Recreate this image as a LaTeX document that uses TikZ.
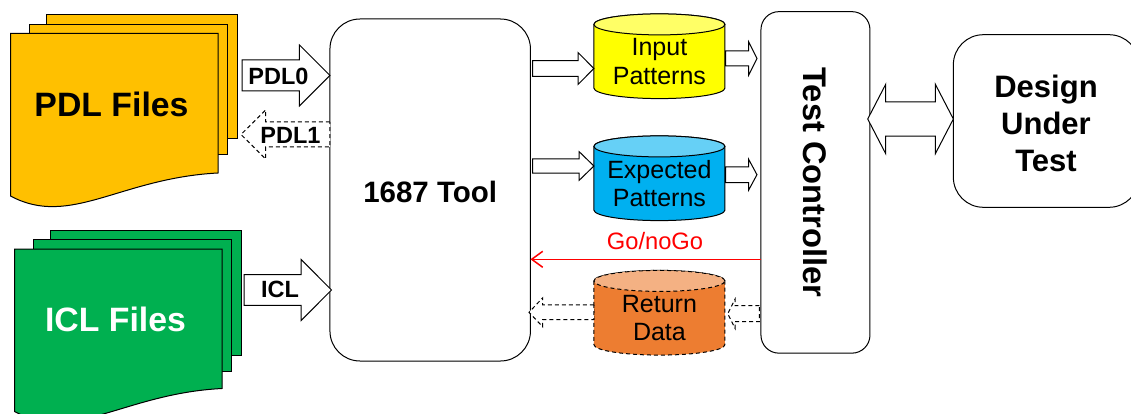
\documentclass[tikz,border=0pt]{standalone}
\usepackage{fontspec}
\setmainfont{Liberation Sans}
\usetikzlibrary{positioning,calc,arrows.meta,backgrounds}
\definecolor{pdlcol}{HTML}{FFC000}
\definecolor{iclcol}{HTML}{00B050}
\definecolor{inputcol}{HTML}{FFFF00}
\definecolor{inputtop}{HTML}{FFFF66}
\definecolor{expcol}{HTML}{00B0F0}
\definecolor{exptop}{HTML}{66D0F6}
\definecolor{retcol}{HTML}{ED7D31}
\definecolor{rettop}{HTML}{F4B183}
\tikzset{
    rbox/.style={draw, line width=1pt, fill=white, inner sep=0pt, outer sep=0pt},
    pdlsheet/.style={draw, line width=1pt, fill=pdlcol},
    iclsheet/.style={draw, line width=1pt, fill=iclcol},
    filetext/.style={inner sep=0pt, font=\bfseries\fontsize{33.8}{40}\selectfont},
    can/.style={inner sep=0pt, outer sep=0pt, minimum width=131pt, minimum height=74.2pt, align=center, font=\fontsize{25}{28.5}\selectfont},
    canrim/.style={x radius=65.5pt, y radius=10.5pt},
    barrow/.style={line width=1pt},
    blockarrow/.style n args={3}{barrow, fill=white, to path={
        let \p1=(\tikztostart), \p2=(\tikztotarget), \p3=($(\tikztotarget)!#3!(\tikztostart)$) in
        (\x1,{\y1+#1}) -- (\x3,{\y1+#1}) -- (\x3,{\y1+#2}) -- (\x2,\y1) -- (\x3,{\y1-#2}) -- (\x3,{\y1-#1}) -- (\x1,{\y1-#1}) -- cycle}},
    dblarrow/.style n args={3}{barrow, fill=white, to path={
        let \p1=(\tikztostart), \p2=(\tikztotarget), \p3=($(\tikztotarget)!#3!(\tikztostart)$), \p4=($(\tikztostart)!#3!(\tikztotarget)$) in
        (\x1,\y1) -- (\x4,{\y1+#2}) -- (\x4,{\y1+#1}) -- (\x3,{\y1+#1}) -- (\x3,{\y1+#2}) -- (\x2,\y1) -- (\x3,{\y1-#2}) -- (\x3,{\y1-#1}) -- (\x4,{\y1-#1}) -- (\x4,{\y1-#2}) -- cycle}},
    dashline/.style={dash pattern=on 4pt off 3pt},
    arrowtext/.style={inner sep=0pt, font=\bfseries\fontsize{23.5}{28}\selectfont},
}
\newcommand{\drawcan}[4]{
    \begin{scope}[on background layer]
        \draw[line width=1pt, fill=#2, #4] (#1.north west) -- ([yshift=10.5pt]#1.south west) arc[start angle=180, end angle=360, canrim] -- (#1.north east) arc[start angle=0, end angle=180, canrim];
        \draw[line width=1pt, fill=#3, #4] (#1.north) ellipse[canrim];
    \end{scope}
}
\begin{document}
\begin{tikzpicture}[x=1pt, y=-1pt]
    \useasboundingbox (0,0) rectangle (1131,414);

    % PDL sheets
    \draw[pdlsheet] (46,14.5) rectangle (237,139);
    \draw[pdlsheet] (29.5,24.5) rectangle (227.5,155);
    \draw[pdlsheet] (10.5,33.5) -- (218,33.5) -- (218,173) .. controls (120,178) and (70,228) .. (10.5,196) -- cycle;
    % ICL sheets
    \draw[iclsheet] (50,230) rectangle (241,355.5);
    \draw[iclsheet] (33.7,239.5) rectangle (231.5,371);
    \draw[iclsheet] (14.5,249) -- (222,249) -- (222,388.5) .. controls (124,393.5) and (74,443.5) .. (14.5,411.5) -- cycle;

    % Define nodes
    \node[filetext] (pdl) at (111.5,104) {PDL Files};
    \node[filetext, text=white] (icl) at (115.5,319) {ICL Files};
    \node[rbox, rounded corners=30pt, minimum width=200.5pt, minimum height=342pt] (tool) at (430.2,190) {};
    \node[rbox, rounded corners=18pt, minimum width=109pt, minimum height=341.5pt, right=230.5pt of tool, yshift=7.6pt] (ctrl) {};
    \node[rbox, rounded corners=30pt, minimum width=185.7pt, minimum height=172.6pt] (dut) at (1046.2,121) {};
    \node[can] (input) at (659.4,61.5) {Input\\Patterns};
    \node[can, below=47.8pt of input] (expected) {Expected\\Patterns};
    \node[can, below=60.3pt of expected] (return) {Return\\Data};
    \drawcan{input}{inputcol}{inputtop}{solid}
    \drawcan{expected}{expcol}{exptop}{solid}
    \drawcan{return}{retcol}{rettop}{dashline}

    % Box texts
    \node[inner sep=0pt, font=\bfseries\fontsize{29.5}{36}\selectfont] (tooltext) at (430.2,192) {1687 Tool};
    \node[rotate=-90, inner sep=0pt, font=\bfseries\fontsize{32.7}{38}\selectfont] (ctrltext) at (ctrl) {Test Controller};
    \node[inner sep=0pt, align=center, font=\bfseries\fontsize{31}{36.7}\selectfont] (duttext) at (1046,123.5) {Design\\Under\\Test};

    % Arrow ends
    \coordinate (pdlzero) at (242,75.5);
    \coordinate (pdlone) at (241,134.5);
    \coordinate (iclin) at (244,290);
    \coordinate (inputin) at (532.7,68.5);
    \coordinate (expin) at (532.7,166);
    \coordinate (inputout) at (725.7,58.5);
    \coordinate (expout) at (725.7,174.7);
    \coordinate (retout) at (529,312.3);
    \coordinate (retin) at (727.7,313.7);
    \coordinate (gonogo) at (655,259.3);
    \coordinate (dutlink) at (867.7,119);

    % Connect nodes
    \draw[blockarrow={15.5pt}{30.5pt}{30.5pt}] (pdlzero) to (pdlzero -| tool.west);
    \draw[blockarrow={12.5pt}{24.5pt}{24.7pt}, dashline] (pdlone -| tool.west) to (pdlone);
    \draw[blockarrow={15.3pt}{30.5pt}{30.3pt}] (iclin) to ([xshift=1.5pt]iclin -| tool.west);
    \draw[blockarrow={7.8pt}{15.8pt}{15.7pt}] (inputin) to (inputin -| input.west);
    \draw[blockarrow={7.2pt}{14.3pt}{14.7pt}] (expin) to (expin -| expected.west);
    \draw[blockarrow={7.5pt}{16.6pt}{8.3pt}] (inputout) to ([xshift=-4pt]inputout -| ctrl.west);
    \draw[blockarrow={7.8pt}{15.4pt}{8.3pt}] (expout) to ([xshift=-4pt]expout -| ctrl.west);
    \draw[blockarrow={7.4pt}{14.5pt}{13.7pt}, dashline] (retout -| return.west) to (retout);
    \draw[blockarrow={8pt}{14.5pt}{7.3pt}, dashline] ([xshift=-1.5pt]retin -| ctrl.west) to (retin);
    \draw[dblarrow={17.2pt}{34.7pt}{18pt}] (dutlink) to (dutlink -| dut.west);
    \draw[red, line width=1.5pt, -{Straight Barb[length=11pt, width=16pt]}] (gonogo -| ctrl.west) -- (gonogo -| tool.east);

    % Arrow labels
    \node[arrowtext] (pdlzerotext) at (278.5,76) {PDL0};
    \node[arrowtext] (pdlonetext) at (290.5,135) {PDL1};
    \node[arrowtext] (icltext) at (280,289.5) {ICL};
    \node[text=red, inner sep=0pt, font=\fontsize{23.7}{28}\selectfont, above=9pt of gonogo] (gotext) {Go/noGo};
\end{tikzpicture}
\end{document}
